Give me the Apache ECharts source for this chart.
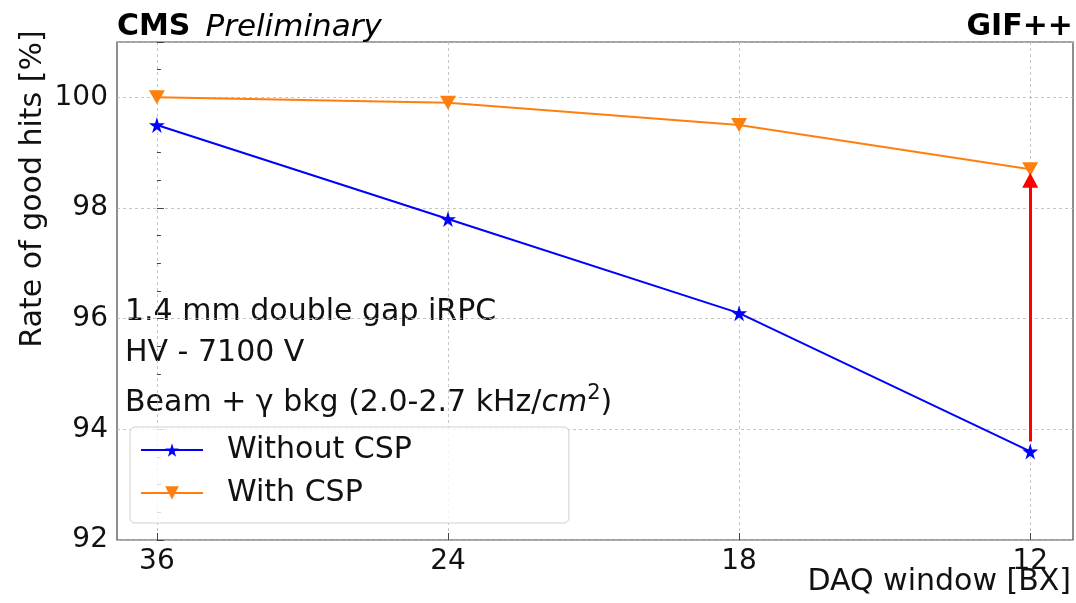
<!DOCTYPE html>
<html>
<head>
<meta charset="utf-8">
<script src="https://cdn.jsdelivr.net/npm/echarts@6/dist/echarts.min.js"></script>
<style>
  html, body { margin: 0; padding: 0; background: #fff; }
  #chart { width: 1076px; height: 603px; }
</style>
</head>
<body>
<div id="chart"></div>
<script>
// DAQ window categories (BX) and rate of good hits [%]
const windows = ["36", "24", "18", "12"];
const withoutCsp = [99.5, 97.8, 96.1, 93.6];
const withCsp = [100.0, 99.9, 99.5, 98.7];
const xTickPos = [0, 1, 2, 3];
const yTicks = [92, 94, 96, 98, 100];
// red arrow at the 12 BX point
const arrowFrom = 93.78;
const arrowTo = 98.5;

const FONT = "DejaVu Sans";
const starPath = "path://M50,0 L61,35 L98,35 L68,57 L79,91 L50,70 L21,91 L32,57 L2,35 L39,35 Z";

const chart = echarts.init(document.getElementById("chart"));

const option = {
  animation: false,
  backgroundColor: "#fff",
  textStyle: { fontFamily: FONT },
  grid: {
    left: 117,
    right: 3,
    top: 42,
    bottom: 63,
    show: true,
    borderColor: "#444",
    borderWidth: 1.2,
    backgroundColor: "transparent",
  },
  xAxis: {
    type: "value",
    min: -0.137,
    max: 3.147,
    axisLine: { show: false },
    axisTick: { show: true, inside: true, length: 7, customValues: xTickPos, lineStyle: { color: "#444" } },
    axisLabel: {
      customValues: xTickPos,
      formatter: (v) => windows[Math.round(v)],
      fontSize: 28,
      color: "#111",
      margin: 8,
      fontFamily: FONT,
    },
    splitLine: {
      show: true,
      customValues: xTickPos,
      lineStyle: { color: "#b8b8b8", type: [3, 3], width: 0.8 },
    },
  },
  yAxis: {
    type: "value",
    min: 92,
    max: 101,
    interval: 2,
    axisLine: { show: false },
    axisTick: { show: true, inside: true, length: 7, lineStyle: { color: "#444" } },
    minorTick: { show: true, splitNumber: 4, length: 4, lineStyle: { color: "#444" } },
    axisLabel: {
      customValues: yTicks,
      fontSize: 28,
      color: "#111",
      margin: 9,
      fontFamily: FONT,
    },
    splitLine: {
      show: true,
      lineStyle: { color: "#b8b8b8", type: [3, 3], width: 0.8 },
    },
  },
  legend: {
    left: 130,
    top: 427,
    orient: "vertical",
    itemWidth: 62,
    itemHeight: 17,
    itemGap: 13,
    padding: [8, 157, 15, 10],
    backgroundColor: "rgba(255,255,255,0.8)",
    borderColor: "#d0d0d0",
    borderWidth: 1,
    borderRadius: 5,
    textStyle: { fontSize: 30, color: "#111", fontFamily: FONT, padding: [0, 0, 0, 19] },
    data: ["Without CSP", "With CSP"],
  },
  series: [
    {
      name: "Without CSP",
      type: "line",
      data: windows.map((w, i) => [i, withoutCsp[i]]),
      color: "#0000ff",
      lineStyle: { width: 2 },
      symbol: starPath,
      symbolSize: 16,
      z: 3,
    },
    {
      name: "With CSP",
      type: "line",
      data: windows.map((w, i) => [i, withCsp[i]]),
      color: "#ff7f0e",
      lineStyle: { width: 2 },
      symbol: "triangle",
      symbolRotate: 180,
      symbolSize: [16, 14],
      z: 3,
      markLine: {
        silent: true,
        symbol: ["none", "triangle"],
        symbolSize: [16, 15],
        label: { show: false },
        lineStyle: { color: "#ff0000", width: 3, type: "solid" },
        data: [[{ coord: [3, arrowFrom] }, { coord: [3, arrowTo] }]],
      },
    },
  ],
  graphic: [
    {
      type: "text",
      left: 117,
      top: 12,
      style: {
        text: "{b|CMS}{i|Preliminary}",
        rich: {
          b: { fontSize: 30, fontWeight: "bold", fontFamily: FONT, fill: "#000" },
          i: { fontSize: 31, fontStyle: "italic", fontFamily: FONT, fill: "#000", padding: [0, 0, 0, 15] },
        },
      },
    },
    {
      type: "text",
      right: 3,
      top: 12,
      style: { text: "GIF++", fontSize: 30, fontWeight: "bold", fontFamily: FONT, fill: "#000" },
    },
    {
      type: "text",
      x: 33,
      y: 189,
      rotation: Math.PI / 2,
      style: {
        text: "Rate of good hits [%]",
        fontSize: 30,
        fontFamily: FONT,
        fill: "#111",
        align: "center",
        verticalAlign: "middle",
      },
    },
    {
      type: "text",
      x: 1071,
      y: 582,
      style: {
        text: "DAQ window [BX]",
        fontSize: 30,
        fontFamily: FONT,
        fill: "#111",
        align: "right",
        verticalAlign: "middle",
      },
    },
    {
      type: "text",
      x: 125,
      y: 312,
      style: { text: "1.4 mm double gap iRPC", fontSize: 30, fontFamily: FONT, fill: "#111", verticalAlign: "middle" },
    },
    {
      type: "text",
      x: 125,
      y: 353,
      style: { text: "HV - 7100 V", fontSize: 30, fontFamily: FONT, fill: "#111", verticalAlign: "middle" },
    },
    {
      type: "text",
      x: 125,
      y: 401,
      style: {
        text: "{n|Beam + γ bkg (2.0-2.7 kHz/}{i|cm}{s|2}{n|)}",
        verticalAlign: "middle",
        rich: {
          n: { fontSize: 30, fontFamily: FONT, fill: "#111", verticalAlign: "bottom" },
          i: { fontSize: 30, fontFamily: FONT, fontStyle: "italic", fill: "#111", verticalAlign: "bottom" },
          s: { fontSize: 21, fontFamily: FONT, fill: "#111", verticalAlign: "top", padding: [0, 0, 14, 0] },
        },
      },
    },
  ],
};

chart.setOption(option);
</script>
</body>
</html>
